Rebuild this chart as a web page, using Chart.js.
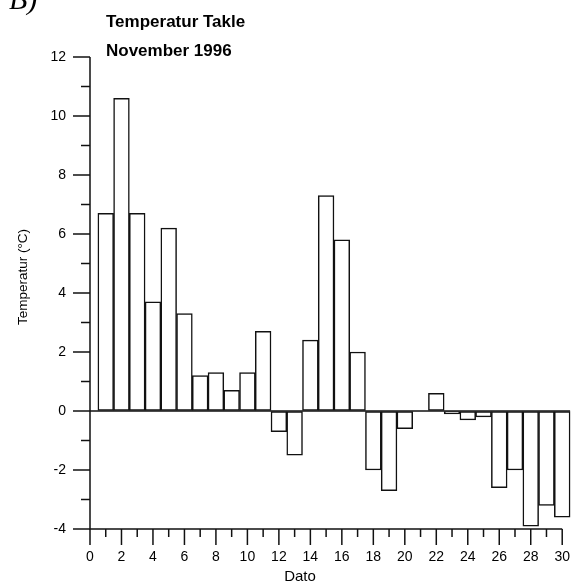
<!DOCTYPE html>
<html>
<head>
<meta charset="utf-8">
<script src="https://cdn.jsdelivr.net/npm/chart.js@4"></script>
<style>
  html, body { margin: 0; padding: 0; background: #fff; }
  #wrap { width: 574px; height: 585px; }
</style>
</head>
<body>
<div id="wrap"><canvas id="tempChart" width="574" height="585"></canvas></div>
<script>
// Daglig middeltemperatur, Takle, november 1996
const days = [1, 2, 3, 4, 5, 6, 7, 8, 9, 10, 11, 12, 13, 14, 15, 16, 17, 18, 19, 20, 21, 22, 23, 24, 25, 26, 27, 28, 29, 30];
const temps = [6.7, 10.6, 6.7, 3.7, 6.2, 3.3, 1.2, 1.3, 0.7, 1.3, 2.7, -0.7, -1.5, 2.4, 7.3, 5.8, 2.0, -2.0, -2.7, -0.6, 0, 0.6, -0.1, -0.3, -0.2, -2.6, -2.0, -3.9, -3.2, -3.6];
const xTicks = [0, 2, 4, 6, 8, 10, 12, 14, 16, 18, 20, 22, 24, 26, 28, 30];
const yTicks = [-4, -2, 0, 2, 4, 6, 8, 10, 12];

const titleLines = ["Temperatur Takle", "November 1996"];
const yTitle = "Temperatur (°C)";
const xTitle = "Dato";

const FONT = "'Liberation Sans', Arial, sans-serif";

// akser, tick-merker og tekster tegnes for hand
const axesPlugin = {
  id: "axesPlugin",
  afterDatasetsDraw(chart) {
    const ctx = chart.ctx;
    const x = chart.scales.x;
    const y = chart.scales.y;
    const left = x.getPixelForValue(0);
    const right = x.getPixelForValue(30);
    const top = y.getPixelForValue(12);
    const bottom = y.getPixelForValue(-4);
    const zero = y.getPixelForValue(0);

    ctx.save();
    ctx.strokeStyle = "#111";
    ctx.lineWidth = 1.5;

    // nullinje
    ctx.beginPath();
    ctx.moveTo(left, zero);
    ctx.lineTo(x.getPixelForValue(30.5), zero);
    ctx.stroke();

    // akselinjer
    ctx.beginPath();
    ctx.moveTo(left, top);
    ctx.lineTo(left, bottom);
    ctx.lineTo(right, bottom);
    ctx.stroke();

    // y ticks
    for (let v = -4; v <= 12; v++) {
      const py = y.getPixelForValue(v);
      const len = v % 2 === 0 ? 17 : 9;
      ctx.beginPath();
      ctx.moveTo(left - len, py);
      ctx.lineTo(left, py);
      ctx.stroke();
    }
    // x ticks
    for (let d = 0; d <= 30; d++) {
      const px = x.getPixelForValue(d);
      const len = d % 2 === 0 ? 16 : 8;
      ctx.beginPath();
      ctx.moveTo(px, bottom);
      ctx.lineTo(px, bottom + len);
      ctx.stroke();
    }

    // tekster
    ctx.fillStyle = "#000";
    ctx.textAlign = "left";
    ctx.textBaseline = "alphabetic";
    ctx.font = "bold 17px " + FONT;
    ctx.fillText(titleLines[0], 106, 27);
    ctx.fillText(titleLines[1], 106, 56);

    ctx.font = "italic 30px 'Liberation Serif', serif";
    ctx.fillText("B)", 9, 9);

    ctx.font = "15px " + FONT;
    ctx.textAlign = "center";
    ctx.textBaseline = "middle";
    ctx.fillText(xTitle, 300, 577);

    ctx.font = "13.5px " + FONT;
    ctx.translate(23, 277);
    ctx.rotate(-Math.PI / 2);
    ctx.fillText(yTitle, 0, 0);
    ctx.restore();
  },
};

const ctx = document.getElementById("tempChart").getContext("2d");
const tempChart = new Chart(ctx, {
  type: "bar",
  data: {
    datasets: [
      {
        label: "Temperatur",
        data: days.map((d, i) => ({ x: d, y: temps[i] })),
        backgroundColor: "#fff",
        borderColor: "#111",
        borderWidth: 1.5,
        borderSkipped: false,
        barPercentage: 1,
        categoryPercentage: 1,
        clip: false,
      },
    ],
  },
  options: {
    responsive: false,
    animation: false,
    layout: { padding: { top: 57, right: 11, left: 0, bottom: 0 } },
    plugins: {
      legend: { display: false },
      tooltip: { enabled: false },
    },
    scales: {
      x: {
        type: "linear",
        min: 0,
        max: 30,
        offset: false,
        afterFit: (scale) => { scale.height = 56; },
        afterBuildTicks: (scale) => { scale.ticks = xTicks.map((v) => ({ value: v })); },
        grid: { offset: false, drawOnChartArea: false, color: "transparent", tickLength: 16 },
        border: { display: false },
        ticks: {
          color: "#000",
          font: { family: FONT, size: 14 },
          padding: 4,
          maxRotation: 0,
          autoSkip: false,
        },
      },
      y: {
        min: -4,
        max: 12,
        afterFit: (scale) => { scale.width = 90; },
        afterBuildTicks: (scale) => { scale.ticks = yTicks.map((v) => ({ value: v })); },
        grid: { drawOnChartArea: false, color: "transparent", tickLength: 17 },
        border: { display: false },
        ticks: {
          color: "#000",
          font: { family: FONT, size: 14 },
          padding: 7,
        },
      },
    },
  },
  plugins: [axesPlugin],
});
</script>
</body>
</html>
